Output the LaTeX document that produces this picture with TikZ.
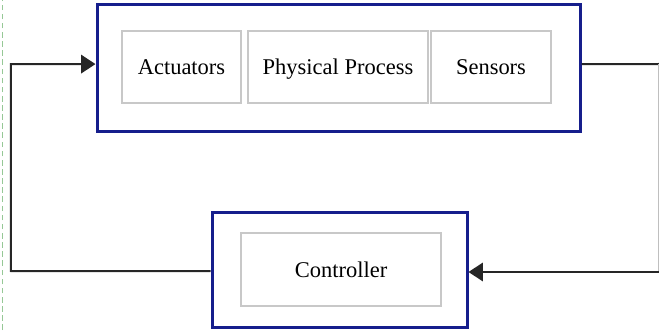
\documentclass[tikz,border=0pt]{standalone}
\usepackage{fontspec}
\setmainfont{Liberation Serif}
\usepackage{xcolor}
\usepackage{tikz}
\usetikzlibrary{arrows.meta,positioning,calc}
\definecolor{boxblue}{RGB}{22,30,140}
\definecolor{innergray}{RGB}{200,200,200}
\definecolor{dashgreen}{RGB}{150,200,150}
\tikzset{
	>={Triangle[length=0.36cm,width=0.46cm]},
	outer/.style = {
			draw            = boxblue,
			line width      = 0.075cm,
			inner sep       = 0pt,
			minimum height  = 3.175cm,
		},
	part/.style = {
			draw            = innergray,
			line width      = 0.8pt,
			minimum height  = 1.8cm,
			inner sep       = 0pt,
			text height     = 11pt,
			text depth      = 0pt,
			font            = \fontsize{16}{19}\selectfont
		},
	wire/.style = {line width=0.05cm, draw=black!85}
}

\begin{document}
\begin{tikzpicture}
    \useasboundingbox (0,0) rectangle (16.475,8.25);

    % plant
    \node[outer, minimum width=12.075cm] at (8.4625,6.5375) (plant) {};
    \node[part, minimum width=2.975cm] at (4.5375,6.575) (act) {Actuators};
    \node[part, minimum width=4.5cm] at (8.45,6.575) (proc) {Physical Process};
    \node[part, minimum width=3.0cm] at (12.275,6.575) (sens) {Sensors};

    % controller
    \node[outer, minimum width=6.375cm, minimum height=2.875cm] at (8.4875,1.5125) (ctrl) {};
    \node[part, minimum width=5.0cm, minimum height=1.825cm] at (8.525,1.5125) (ctrlin) {Controller};

    \coordinate (rtop) at (16.475,6.65);
    \coordinate (rbot) at (16.475,1.45);
    \coordinate (lbot) at (0.275,1.475);

    \draw[wire] ([yshift=0.11cm]plant.east) -- (rtop);
    \draw[wire, draw=black!25] (rtop) -- (rbot);
    \draw[wire,->] (rbot) -- (rbot -| ctrl.east);
    \draw[wire,->] ([yshift=-0.04cm]ctrl.west) -- (lbot) |- ([yshift=0.11cm]plant.west);

    \draw[dashgreen, line width=0.6pt, dash pattern=on 4pt off 2.5pt] (0.05,0) -- (0.05,8.25);
  \end{tikzpicture}
\end{document}
